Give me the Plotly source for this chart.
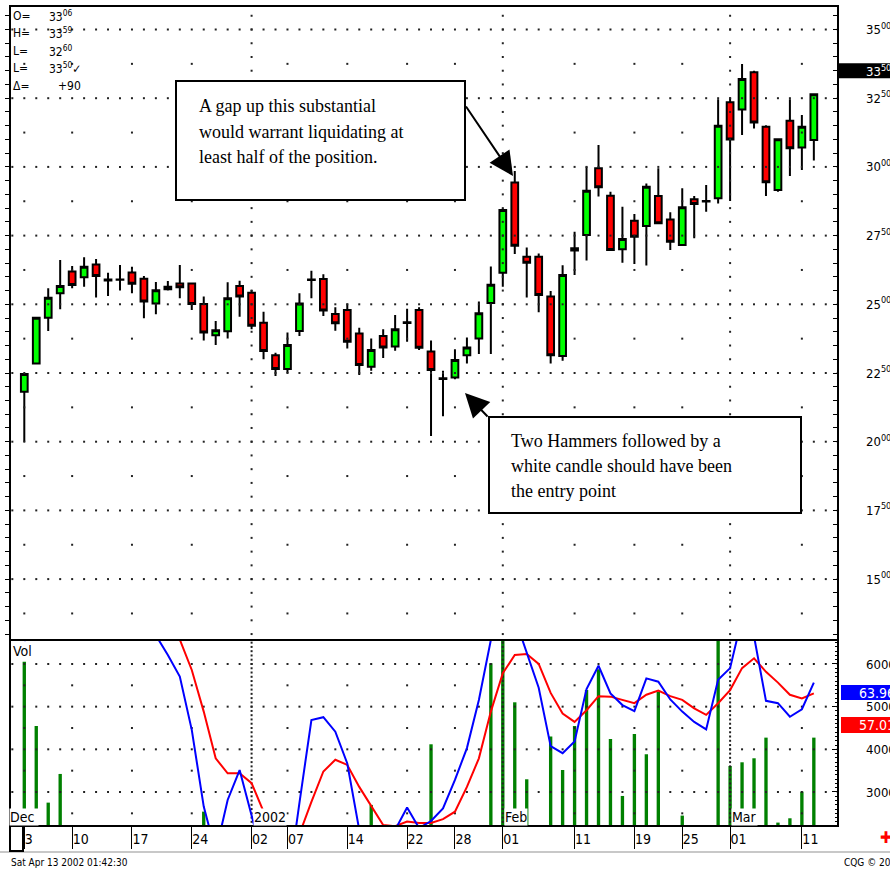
import numpy as np
import plotly.graph_objects as go

# ---------------- data ----------------
bar_index = list(range(67))
opens  = [2182, 2285, 2451, 2540, 2619, 2598, 2645, 2590, 2590, 2616,
          2593, 2503, 2555, 2576, 2576, 2501, 2387, 2402, 2567, 2542,
          2433, 2315, 2265, 2403, 2590, 2592, 2465, 2479, 2394, 2273,
          2385, 2346, 2435, 2479, 2328, 2231, 2234, 2315, 2376, 2505,
          2615, 2943, 2673, 2673, 2528, 2312, 2696, 2752, 2995, 2895,
          2700, 2804, 2785, 2894, 2809, 2716, 2882, 2876, 2886, 3235,
          3209, 3344, 3146, 2916, 3168, 3071, 3098]
highs  = [2249, 2455, 2558, 2661, 2639, 2671, 2665, 2615, 2643, 2637,
          2603, 2581, 2585, 2643, 2578, 2528, 2439, 2580, 2586, 2552,
          2473, 2324, 2397, 2540, 2622, 2609, 2489, 2503, 2415, 2376,
          2409, 2461, 2484, 2489, 2368, 2258, 2336, 2379, 2510, 2638,
          2849, 2985, 2707, 2685, 2548, 2642, 2764, 3001, 3080, 2910,
          2855, 2829, 2940, 2995, 2835, 2922, 2894, 2934, 3246, 3250,
          3374, 3350, 3152, 3102, 3246, 3189, 3268]
lows   = [2000, 2281, 2403, 2482, 2558, 2564, 2525, 2530, 2550, 2540,
          2449, 2464, 2550, 2522, 2479, 2368, 2352, 2376, 2455, 2409,
          2300, 2239, 2249, 2385, 2522, 2457, 2404, 2339, 2243, 2258,
          2305, 2331, 2364, 2334, 2021, 2093, 2227, 2285, 2319, 2319,
          2564, 2683, 2525, 2471, 2285, 2295, 2607, 2659, 2892, 2695,
          2651, 2647, 2641, 2792, 2698, 2712, 2740, 2837, 2867, 2876,
          3116, 3140, 2894, 2910, 2967, 2989, 3023]
closes = [2246, 2451, 2524, 2567, 2570, 2637, 2603, 2587, 2589, 2575,
          2510, 2551, 2564, 2562, 2501, 2397, 2406, 2522, 2528, 2422,
          2330, 2265, 2352, 2503, 2588, 2477, 2431, 2364, 2279, 2334,
          2343, 2409, 2432, 2342, 2261, 2228, 2297, 2343, 2467, 2571,
          2843, 2713, 2651, 2534, 2315, 2607, 2704, 2913, 2926, 2698,
          2738, 2746, 2928, 2795, 2728, 2853, 2865, 2874, 3150, 3100,
          3320, 3162, 2944, 3101, 3068, 3146, 3264]
volume = [6055, 4547, 2751, 3423, 1900, 2050, 1800, 2100, 1950, 1700,
          2000, 1850, 2100, 1900, 2050, 2540, 1900, 2000, 1800, 1950,
          1700, 1600, 1900, 2000, 2100, 1850, 1900, 1950, 2050, 2697,
          2000, 1900, 2100, 2050, 4118, 2150, 2000, 2100, 2150, 6016,
          7000, 5102, 3298, 2100, 4298, 3517, 4547, 5391, 5875, 4243,
          2907, 4360, 3884, 5352, 2100, 2447, 2000, 2100, 7200, 3610,
          3696, 3790, 4274, 2283, 2384, 3009, 4274]
osc_blue = [75.0, 80, 84, 86, 87, 86, 85, 84, 83, 82,
            80, 76.2, 72.0, 67.4, 56.0, 39.6, 29.9, 41.0, 47.4, 38.2,
            28, 22, 22, 40.4, 58.1, 58.7, 55.6, 48.8, 34.6, 27,
            28, 34.6, 39.4, 35.0, 36.5, 39.2, 45.3, 52.1, 62.4, 75.2,
            84, 80, 72.6, 65.0, 52.5, 51.0, 53.5, 64.7, 69.7, 63.8,
            61.3, 60.0, 67.0, 66.3, 62.5, 59.9, 57.7, 56.1, 66.7, 69.2,
            80, 76, 62.2, 61.7, 58.8, 60.4, 66.1]
osc_red = [88, 90, 91, 92, 92, 91, 90, 89, 88, 86,
           84, 82, 79, 75.3, 68.8, 59.9, 49.9, 46.7, 46.7, 44.6,
           38.5, 33, 30.5, 33.7, 40.6, 47.1, 49.6, 48.5, 43.8, 39.6,
           35.65, 35.4, 36.4, 36.1, 36.1, 36.9, 38.5, 43.8, 49.9, 59.9,
           68.1, 72.0, 72.2, 70.1, 63.9, 59.5, 57.7, 60.2, 63.2, 63.1,
           62.4, 61.7, 63.5, 64.4, 63.2, 62.4, 60.6, 59.2, 61.7, 64.5,
           69.2, 71.3, 68.4, 66.1, 63.5, 62.7, 63.8]

tick_index = [0, 4, 9, 14, 19, 22, 27, 32, 36, 40, 46, 51, 55, 59, 65]
tick_text = ["3", "10", "17", "24", "02", "07", "14", "22", "28", "01",
             "11", "19", "25", "01", "11"]
month_index = [19, 40, 59]
month_labels = ["2002", "Feb", "Mar"]
price_ticks = [1500, 1750, 2000, 2250, 2500, 2750, 3000, 3250, 3500]
vol_ticks = [3000, 4000, 5000, 6000]

header_labels = ["O=", "H=", "L=", "L=", "\u0394="]
header_values = ["33<sup>06</sup>", "33<sup>59</sup>", "32<sup>60</sup>",
                 "33<sup>50</sup>\u2713", "+90"]
last_price = 3350
blue_last, red_last = "63.96", "57.01"

note1 = ["A gap up this substantial", "would warrant liquidating at",
         "least half of the position."]
note2 = ["Two Hammers followed by a", "white candle should have been",
         "the entry point"]

# ---------------- geometry ----------------
W, H = 890, 871
ML, MR, MT, MB = 10, 52, 6, 45
PW, PH = W - ML - MR, H - MT - MB


def px(x):
    return (x - ML) / PW


def py(y):
    return (H - MB - y) / PH


SPLIT = py(640)
NARROW = "Liberation Sans Narrow, Arial Narrow, DejaVu Sans Condensed, Liberation Sans, sans-serif"
SERIF = "Liberation Serif, Times New Roman, serif"
PRICE_RANGE = [1278.4, 3585.5]


def sup_label(v):
    s = str(v)
    return s[:2] + "<sup>" + s[2:] + "</sup>"


fig = go.Figure()

# ---- grid dots ----
dense_x = np.arange(-1, 69)
week_cols = [t for t in tick_index if t not in month_index]
gx, gy = [], []
for lvl in price_ticks:
    gx += list(dense_x); gy += [lvl] * len(dense_x)
for lvl in np.arange(1375, 3500, 250):
    gx += week_cols; gy += [lvl] * len(week_cols)
for m in month_index:
    ys = list(np.arange(1300, 3586, 50))
    gx += [m] * len(ys); gy += ys
fig.add_trace(go.Scatter(x=gx, y=gy, mode="markers", yaxis="y",
                         marker=dict(symbol="square", size=2, color="#222"),
                         hoverinfo="skip", showlegend=False))
vx, vy = [], []
for lvl in vol_ticks:
    vx += list(dense_x); vy += [lvl] * len(dense_x)
for lvl in [2500, 3500, 4500, 5500]:
    vx += week_cols; vy += [lvl] * len(week_cols)
for m in month_index:
    ys = list(np.arange(2300, 6560, 100))
    vx += [m] * len(ys); vy += ys
fig.add_trace(go.Scatter(x=vx, y=vy, mode="markers", yaxis="y2",
                         marker=dict(symbol="square", size=2, color="#222"),
                         hoverinfo="skip", showlegend=False))

# ---- candles ----
fig.add_trace(go.Candlestick(
    x=bar_index, open=opens, high=highs, low=lows, close=closes,
    yaxis="y", whiskerwidth=0,
    increasing=dict(fillcolor="#00ff00", line=dict(color="black", width=2)),
    decreasing=dict(fillcolor="#ff0000", line=dict(color="black", width=2)),
    hoverinfo="skip", showlegend=False))

# ---- volume ----
fig.add_trace(go.Bar(x=bar_index, y=volume, yaxis="y2", width=0.28,
                     marker=dict(color="#008000", line=dict(width=0)),
                     hoverinfo="skip", showlegend=False))

# ---- oscillator ----
fig.add_trace(go.Scatter(x=bar_index, y=osc_red, yaxis="y3", mode="lines",
                         line=dict(color="#ff0000", width=2),
                         hoverinfo="skip", showlegend=False))
fig.add_trace(go.Scatter(x=bar_index, y=osc_blue, yaxis="y3", mode="lines",
                         line=dict(color="#0000ff", width=2),
                         hoverinfo="skip", showlegend=False))
# carrier for the left tick ruler
fig.add_trace(go.Scatter(x=[None], y=[None], yaxis="y4", mode="markers",
                         hoverinfo="skip", showlegend=False))

shapes = [
    dict(type="rect", xref="paper", yref="paper", x0=0, x1=1, y0=SPLIT, y1=1,
         line=dict(color="black", width=2)),
    dict(type="rect", xref="paper", yref="paper", x0=0, x1=1, y0=0, y1=SPLIT,
         line=dict(color="black", width=2)),
    dict(type="line", xref="paper", yref="paper", x0=px(0), x1=px(890),
         y0=py(852), y1=py(852), line=dict(color="#c8c8c8", width=2)),
    dict(type="rect", xref="paper", yref="paper", x0=px(10), x1=px(23),
         y0=py(826), y1=py(851), fillcolor="white",
         line=dict(color="black", width=2)),
    # callout boxes
    dict(type="rect", xref="paper", yref="paper", x0=px(176), x1=px(465),
         y0=py(200), y1=py(81), fillcolor="white",
         line=dict(color="black", width=2)),
    dict(type="rect", xref="paper", yref="paper", x0=px(489), x1=px(801),
         y0=py(513), y1=py(417), fillcolor="white",
         line=dict(color="black", width=2)),
    # value markers on right axis
    dict(type="rect", xref="paper", yref="y", x0=px(839), x1=px(892),
         y0=last_price - 27, y1=last_price + 27, fillcolor="black",
         line=dict(width=0)),
    dict(type="rect", xref="paper", yref="paper", x0=px(841), x1=px(892),
         y0=py(700), y1=py(685), fillcolor="#0000ff", line=dict(width=0)),
    dict(type="rect", xref="paper", yref="paper", x0=px(841), x1=px(892),
         y0=py(733), y1=py(717), fillcolor="#ff0000", line=dict(width=0)),
]

ann = []
# header
for i, (lab, val) in enumerate(zip(header_labels, header_values)):
    yy = py(16 + i * 17.4)
    ann.append(dict(x=px(11), y=yy, xref="paper", yref="paper", text=lab,
                    showarrow=False, xanchor="left", yanchor="middle",
                    font=dict(size=12)))
    ann.append(dict(x=px(56 if val.startswith("+") else 47), y=yy,
                    xref="paper", yref="paper", text=val, showarrow=False,
                    xanchor="left", yanchor="middle", font=dict(size=12)))
# callout texts
for i, t in enumerate(note1):
    ann.append(dict(x=px(197), y=py(106 + i * 25.5), xref="paper", yref="paper",
                    text=t, showarrow=False, xanchor="left", yanchor="middle",
                    font=dict(family=SERIF, size=18, color="black")))
for i, t in enumerate(note2):
    ann.append(dict(x=px(509), y=py(441 + i * 25), xref="paper", yref="paper",
                    text=t, showarrow=False, xanchor="left", yanchor="middle",
                    font=dict(family=SERIF, size=18, color="black")))
# arrows
ann.append(dict(x=px(513), y=py(176), xref="paper", yref="paper", text="",
                showarrow=True, ax=465 - 513, ay=105 - 176, arrowhead=2,
                arrowsize=2.4, arrowwidth=2, arrowcolor="black", standoff=0))
ann.append(dict(x=px(465), y=py(393), xref="paper", yref="paper", text="",
                showarrow=True, ax=489 - 465, ay=418 - 393, arrowhead=2,
                arrowsize=2.4, arrowwidth=2, arrowcolor="black", standoff=0))
# lower panel labels
ann.append(dict(x=px(11), y=py(651), xref="paper", yref="paper", text="Vol",
                showarrow=False, xanchor="left", yanchor="middle",
                font=dict(size=14)))
ann.append(dict(x=px(9), y=0, xref="paper", yref="paper", text="Dec ",
                showarrow=False, xanchor="left", yanchor="bottom",
                bgcolor="white", borderpad=0, font=dict(size=14)))
for m, lab in zip(month_index, month_labels):
    ann.append(dict(x=m, y=0, xref="x", yref="paper", text=lab,
                    showarrow=False, xanchor="left", yanchor="bottom",
                    xshift=1, bgcolor="white", borderpad=0,
                    font=dict(size=14)))
# right-axis markers
ann.append(dict(x=px(864), y=last_price, xref="paper", yref="y",
                text=sup_label(last_price), showarrow=False, xanchor="left",
                yanchor="middle", font=dict(size=13, color="white")))
ann.append(dict(x=px(857), y=py(692.5), xref="paper", yref="paper",
                text=blue_last, showarrow=False, xanchor="left",
                yanchor="middle", font=dict(size=14, color="white")))
ann.append(dict(x=px(857), y=py(725), xref="paper", yref="paper",
                text=red_last, showarrow=False, xanchor="left",
                yanchor="middle", font=dict(size=14, color="white")))
# footer
ann.append(dict(x=px(9), y=py(862), xref="paper", yref="paper",
                text="Sat Apr 13 2002 01:42:30", showarrow=False,
                xanchor="left", yanchor="middle", font=dict(size=10)))
ann.append(dict(x=px(842), y=py(862), xref="paper", yref="paper",
                text="CQG \u00a9 2002", showarrow=False,
                xanchor="left", yanchor="middle", font=dict(size=10)))
ann.append(dict(x=px(878), y=py(837), xref="paper", yref="paper",
                text="\u271a", showarrow=False, xanchor="left",
                yanchor="middle", font=dict(size=16, color="#ff0000")))

fig.update_layout(
    width=W, height=H,
    margin=dict(l=ML, r=MR, t=MT, b=MB, pad=0, autoexpand=False),
    paper_bgcolor="white", plot_bgcolor="white",
    font=dict(family=NARROW, color="black", size=12),
    showlegend=False, hovermode=False,
    xaxis=dict(domain=[0, 1], range=[-1.195, 68.02], anchor="y2",
               tickmode="array", tickvals=tick_index, ticktext=tick_text,
               ticks="outside", ticklen=22, tickwidth=1, tickcolor="black",
               ticklabelposition="outside right", ticklabelstandoff=0,
               tickfont=dict(size=14), showgrid=False, zeroline=False,
               showline=False, automargin=False,
               rangeslider=dict(visible=False), fixedrange=True),
    yaxis=dict(domain=[SPLIT, 1], range=PRICE_RANGE, side="right",
               anchor="x", tickmode="array", tickvals=price_ticks,
               ticktext=[sup_label(v) for v in price_ticks],
               ticks="inside", ticklen=5, tickcolor="black", tickwidth=1,
               minor=dict(tickmode="linear", tick0=0, dtick=50, ticks="inside",
                          ticklen=5, tickcolor="black", tickwidth=1),
               ticklabelstandoff=27, tickfont=dict(size=13), automargin=False,
               showgrid=False, zeroline=False, showline=False),
    yaxis4=dict(overlaying="y", range=PRICE_RANGE, side="left", anchor="x",
                tickmode="linear", tick0=0, dtick=50, ticks="outside",
                ticklen=4, tickcolor="black", showticklabels=False,
                automargin=False,
                showgrid=False, zeroline=False, showline=False),
    yaxis2=dict(domain=[0, SPLIT], range=[2203, 6562], side="right",
                anchor="x", tickmode="array", tickvals=vol_ticks,
                ticktext=[str(v) for v in vol_ticks],
                ticks="inside", ticklen=6, tickcolor="black", tickwidth=1,
                minor=dict(tickmode="linear", tick0=0, dtick=100,
                           ticks="inside", ticklen=3, tickcolor="black",
                           tickwidth=1),
                ticklabelstandoff=27, tickfont=dict(size=13), automargin=False,
                showgrid=False, zeroline=False, showline=False),
    yaxis3=dict(overlaying="y2", range=[35.44, 75.21], visible=False),
    boxgap=0.25, boxgroupgap=0.25,
    shapes=shapes, annotations=ann,
)

fig.write_html("out.html", config={"displayModeBar": False},
               post_script="document.body.style.margin='0';document.body.style.overflow='hidden';")
